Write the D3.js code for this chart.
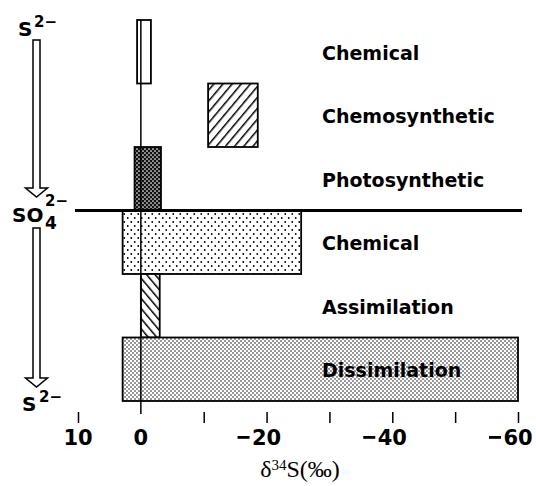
<!DOCTYPE html>
<html lang="en">
<head>
  <meta charset="UTF-8">
  <title>Sulfur isotope fractionation</title>
  <style>
    body {
      margin: 0;
      padding: 0;
      background: white;
    }
    .lbl {
      font-family: "DejaVu Sans", sans-serif;
      font-weight: bold;
      font-size: 19px;
    }
    .tick-lbl {
      font-family: "DejaVu Sans", sans-serif;
      font-weight: bold;
      font-size: 21px;
    }
    .ion {
      font-family: "DejaVu Sans", sans-serif;
      font-weight: bold;
    }
  </style>
</head>
<body>
<svg width="536" height="486"></svg>
<script src="https://d3js.org/d3.v7.min.js"></script>
<script>
// processes, top to bottom
const processes = ["Chemical", "Chemosynthetic", "Photosynthetic", "Chemical", "Assimilation", "Dissimilation"];
// range of delta34S for each process (per mil)
const rangeHigh = [0.6, -10.7, 1.0, 2.9, 0, 2.9];
const rangeLow = [-1.6, -18.6, -3.2, -25.5, -3.0, -60];
const tickVals = [10, 0, -10, -20, -30, -40, -50, -60];
const tickLabels = [10, 0, -20, -40, -60];

const fillIds = ["none", "hatchR", "darkDots", "sparseDots", "hatchL", "fineDots"];

const svg = d3.select("svg");
const defs = svg.append("defs");

// patterns
function dots(id, w, h, bg, fg, r, pts) {
  const p = defs.append("pattern").attr("id", id)
    .attr("patternUnits", "userSpaceOnUse")
    .attr("width", w).attr("height", h);
  p.append("rect").attr("width", w).attr("height", h).attr("fill", bg);
  pts.forEach(q => p.append("circle").attr("cx", q[0]).attr("cy", q[1]).attr("r", r).attr("fill", fg));
}
dots("darkDots", 4, 4, "#111", "#fff", 0.85, [[1, 1], [3, 3]]);
dots("sparseDots", 7, 8, "#fff", "#000", 0.9, [[1.75, 2], [5.25, 6]]);
dots("fineDots", 4, 4, "#fff", "#000", 0.72, [[1, 1], [3, 3]]);

function hatch(id, angle, w) {
  const p = defs.append("pattern").attr("id", id)
    .attr("patternUnits", "userSpaceOnUse")
    .attr("width", w).attr("height", w)
    .attr("patternTransform", `rotate(${angle})`);
  p.append("rect").attr("width", w).attr("height", w).attr("fill", "#fff");
  p.append("line").attr("x1", 0).attr("y1", 0).attr("x2", 0).attr("y2", w)
    .attr("stroke", "#000").attr("stroke-width", 3);
}
hatch("hatchR", 40, 7);
hatch("hatchL", -40, 6.5);

const x = d3.scaleLinear().domain([10, -60]).range([78, 518]);
const y = d3.scaleBand().domain(d3.range(processes.length)).range([20, 401]);

// bars
svg.append("g").selectAll("rect")
  .data(processes)
  .join("rect")
  .attr("x", (d, i) => x(rangeHigh[i]))
  .attr("y", (d, i) => y(i))
  .attr("width", (d, i) => x(rangeLow[i]) - x(rangeHigh[i]))
  .attr("height", y.bandwidth())
  .attr("fill", (d, i) => fillIds[i] === "none" ? "#fff" : `url(#${fillIds[i]})`)
  .attr("stroke", "#000")
  .attr("stroke-width", 1.8);

// zero line
svg.append("line")
  .attr("x1", x(0)).attr("x2", x(0))
  .attr("y1", y(0)).attr("y2", 414)
  .attr("stroke", "#000").attr("stroke-width", 1.5);

// S2- / SO4 2- boundary
svg.append("line")
  .attr("x1", 75).attr("x2", 522)
  .attr("y1", y(3)).attr("y2", y(3))
  .attr("stroke", "#000").attr("stroke-width", 3);

// process labels
svg.append("g").selectAll("text")
  .data(processes)
  .join("text")
  .attr("class", "lbl")
  .attr("x", 322)
  .attr("y", (d, i) => y(i) + y.bandwidth() / 2 + 8)
  .text(d => d);

// axis
const axis = d3.axisBottom(x)
  .tickValues(tickVals.filter(v => v !== 0))
  .tickSize(11)
  .tickFormat("");
const ax = svg.append("g")
  .attr("transform", "translate(0,412)")
  .call(axis);
ax.select(".domain").remove();
ax.selectAll(".tick line").attr("stroke", "#000").attr("stroke-width", 1.5);

const tl = svg.append("g").selectAll("g")
  .data(tickLabels)
  .join("g")
  .attr("transform", d => `translate(${x(d)},445)`);
tl.append("text")
  .attr("class", "tick-lbl")
  .attr("text-anchor", "middle")
  .text(d => Math.abs(d));
tl.filter(d => d < 0).append("rect")
  .attr("x", -29).attr("y", -9)
  .attr("width", 12).attr("height", 2.8)
  .attr("fill", "#000");

// axis title
const title = svg.append("text")
  .attr("x", 300).attr("y", 477)
  .attr("text-anchor", "middle")
  .style("font-family", "'Liberation Serif', 'Times New Roman', serif")
  .style("font-size", "24px");
title.append("tspan").text("\u03b4");
title.append("tspan").attr("dy", -7).style("font-size", "15px").text("34");
title.append("tspan").attr("dy", 7).text("S(\u2030)");

// left side: S2- -> SO4 2- -> S2-
function arrow(x0, yTop, yTip) {
  const hw = 3.5, hh = 11, head = 9;
  svg.append("path")
    .attr("d", `M${x0 - hw},${yTop} L${x0 + hw},${yTop} L${x0 + hw},${yTip - head}
      L${x0 + hh},${yTip - head} L${x0},${yTip} L${x0 - hh},${yTip - head}
      L${x0 - hw},${yTip - head} Z`)
    .attr("fill", "#fff")
    .attr("stroke", "#000")
    .attr("stroke-width", 1.5);
}
arrow(36.5, 40, 197);
arrow(36.5, 228, 387);

function ion(xp, yp, base, sup, supX, supY, sub, subY) {
  svg.append("text").attr("class", "ion")
    .attr("x", xp).attr("y", yp)
    .style("font-size", "20px")
    .text(base);
  svg.append("text").attr("class", "ion")
    .attr("x", supX).attr("y", supY)
    .style("font-size", "15px")
    .text(sup);
  if (sub) {
    svg.append("text").attr("class", "ion")
      .attr("x", supX).attr("y", subY)
      .style("font-size", "17px")
      .text(sub);
  }
}
ion(18, 36, "S", "2\u2212", 34, 27);
ion(12, 222, "SO", "2\u2212", 45, 206, "4", 229);
ion(22, 411, "S", "2\u2212", 39, 402);
</script>
</body>
</html>
